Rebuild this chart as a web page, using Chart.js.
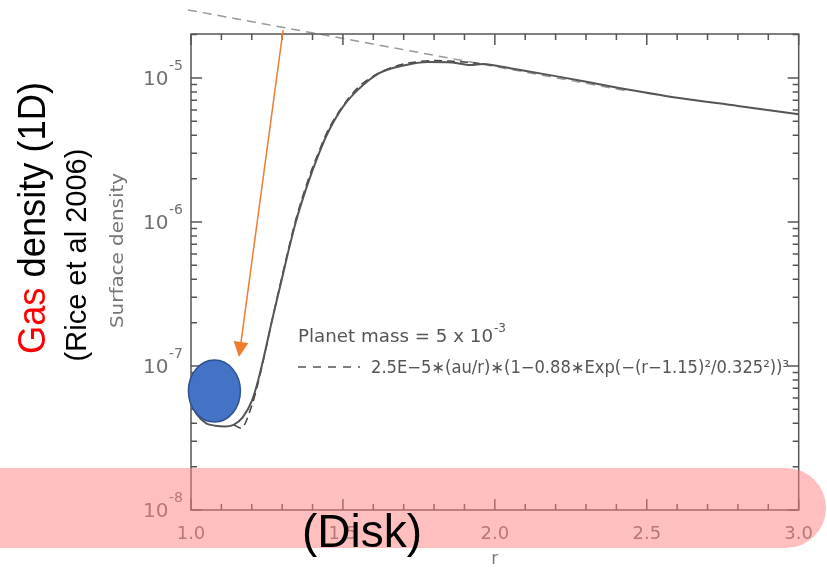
<!DOCTYPE html>
<html>
<head>
<meta charset="utf-8">
<script src="https://cdn.jsdelivr.net/npm/chart.js@4.4.1/dist/chart.umd.min.js"></script>
<style>
  html, body { margin: 0; padding: 0; background: #fff; }
  #wrap { position: relative; width: 827px; height: 568px; overflow: hidden; }
</style>
</head>
<body>
<div id="wrap"><canvas id="densityChart"></canvas></div>
<script>
// Simulated profile (solid line)
const simR = [1.00, 1.02, 1.05, 1.08, 1.11, 1.14, 1.17, 1.20, 1.22, 1.245, 1.265, 1.295, 1.32, 1.345, 1.385, 1.42, 1.45,
              1.50, 1.55, 1.62, 1.70, 1.78, 1.86, 1.92, 1.96, 2.00, 2.05, 2.20, 2.40, 2.60, 2.80, 3.00];
const simDensity = [5.5e-8, 4.6e-8, 4.0e-8, 3.85e-8, 3.8e-8, 3.9e-8, 4.4e-8, 5.7e-8, 7.8e-8, 1.29e-7, 2.0e-7, 3.7e-7, 6.2e-7, 1.0e-6, 1.86e-6, 2.95e-6, 4.15e-6,
                    6.3e-6, 8.3e-6, 1.08e-5, 1.22e-5, 1.29e-5, 1.28e-5, 1.23e-5, 1.25e-5, 1.22e-5, 1.17e-5, 1.03e-5, 8.6e-6, 7.3e-6, 6.4e-6, 5.6e-6];

// Fitted profile (dashed line)
const fitR = [1.14, 1.165, 1.20, 1.22, 1.245, 1.265, 1.295, 1.32, 1.345, 1.385, 1.42, 1.45, 1.50, 1.55, 1.60, 1.65, 1.70, 1.75, 1.80, 1.85, 1.90, 1.95];
const fitDensity = [3.9e-8, 3.7e-8, 5.3e-8, 7.5e-8, 1.27e-7, 2.0e-7, 3.8e-7, 6.4e-7, 1.04e-6, 1.95e-6, 3.05e-6, 4.3e-6, 6.4e-6, 8.6e-6, 1.03e-5, 1.16e-5, 1.25e-5, 1.30e-5, 1.32e-5, 1.31e-5, 1.29e-5, 1.26e-5];

// Straight grey slope line drawn over the slide
const slopeR = [0.99, 2.44];
const slopeDensity = [2.97e-5, 8.1e-6];

// Axis ticks
const xTickValues = [1.0, 1.5, 2.0, 2.5, 3.0];
const xTickLabels = ['1.0', '1.5', '2.0', '2.5', '3.0'];
const yTickValues = [1e-8, 1e-7, 1e-6, 1e-5];
const yTickExponents = ['-8', '-7', '-6', '-5'];

// Legend text
const legendTitle = 'Planet mass = 5 x 10';
const legendTitleExp = '-3';
const legendFit = '2.5E\u22125\u2217(au/r)\u2217(1\u22120.88\u2217Exp(\u2212(r\u22121.15)\u00B2/0.325\u00B2))\u00B3';

// Arrow and planet marker, in data units
const arrowFrom = { x: 1.303, y: 2.15e-5 };
const arrowTo = { x: 1.158, y: 1.155e-7 };
const planetAt = { x: 1.077, y: 6.7e-8 };

const toPoints = (xs, ys) => xs.map((x, i) => ({ x: x, y: ys[i] }));

//Draw text squeezed or stretched to a given width
function fitText(ctx, text, x, y, width) {
    const w = ctx.measureText(text).width;
    ctx.save();
    ctx.translate(x, y);
    ctx.scale(width / w, 1);
    ctx.fillText(text, 0, 0);
    ctx.restore();
}

//Plugin for the IDL style frame, inward ticks and the slide annotations
const slideOverlay = {
    id: 'slideOverlay',
    afterDatasetsDraw(chart) {
        const { ctx, chartArea: a, scales: { x, y } } = chart;
        ctx.save();
        ctx.strokeStyle = '#555';
        ctx.lineWidth = 1.5;
        ctx.strokeRect(a.left, a.top, a.right - a.left, a.bottom - a.top);
        ctx.beginPath();
        for (let i = 0; i <= 20; i++) {
            const px = x.getPixelForValue(1 + i * 0.1);
            const len = i % 5 === 0 ? 11 : 6;
            ctx.moveTo(px, a.bottom); ctx.lineTo(px, a.bottom - len);
            ctx.moveTo(px, a.top); ctx.lineTo(px, a.top + len);
        }
        for (let e = -8; e <= -5; e++) {
            for (let m = 1; m <= 9; m++) {
                const v = m * Math.pow(10, e);
                if (v > y.max) break;
                const py = y.getPixelForValue(v);
                const len = m === 1 ? 11 : 6;
                ctx.moveTo(a.left, py); ctx.lineTo(a.left + len, py);
                ctx.moveTo(a.right, py); ctx.lineTo(a.right - len, py);
            }
        }
        ctx.stroke();

        // y tick labels, 10 with a raised exponent
        ctx.fillStyle = '#707070';
        ctx.textBaseline = 'middle';
        ctx.textAlign = 'left';
        yTickValues.forEach((v, i) => {
            const py = y.getPixelForValue(v);
            ctx.font = '20px "DejaVu Sans"';
            ctx.fillText('10', 143, py + 2);
            ctx.font = '14px "DejaVu Sans"';
            ctx.fillText(yTickExponents[i], 169, py - 12);
        });

        // legend
        ctx.fillStyle = '#555';
        ctx.textBaseline = 'alphabetic';
        ctx.font = '17px "DejaVu Sans"';
        fitText(ctx, legendTitle, 298, 342, 195);
        ctx.font = '12px "DejaVu Sans"';
        ctx.fillText(legendTitleExp, 494, 332);
        ctx.font = '17px "DejaVu Sans"';
        fitText(ctx, legendFit, 371, 373, 418);
        ctx.setLineDash([8, 7]);
        ctx.lineWidth = 1.3;
        ctx.beginPath();
        ctx.moveTo(298, 367); ctx.lineTo(360, 367);
        ctx.stroke();
        ctx.restore();
    },
    afterDraw(chart) {
        const { ctx, scales: { x, y } } = chart;
        ctx.save();

        // axis titles
        ctx.fillStyle = '#777';
        ctx.font = '17px "DejaVu Sans"';
        ctx.textAlign = 'center';
        ctx.textBaseline = 'middle';
        ctx.fillText('r', x.getPixelForValue(2.0), 560);
        ctx.save();
        ctx.translate(119, 251);
        ctx.rotate(-Math.PI / 2);
        ctx.textAlign = 'left';
        fitText(ctx, 'Surface density', -77, 0, 155);
        ctx.restore();

        // orange arrow
        const x0 = x.getPixelForValue(arrowFrom.x), y0 = y.getPixelForValue(arrowFrom.y);
        const x1 = x.getPixelForValue(arrowTo.x), y1 = y.getPixelForValue(arrowTo.y);
        const ang = Math.atan2(y1 - y0, x1 - x0);
        ctx.strokeStyle = '#ED7D31';
        ctx.fillStyle = '#ED7D31';
        ctx.lineWidth = 1.5;
        ctx.beginPath();
        ctx.moveTo(x0, y0);
        ctx.lineTo(x1 - 12 * Math.cos(ang), y1 - 12 * Math.sin(ang));
        ctx.stroke();
        ctx.beginPath();
        ctx.moveTo(x1, y1);
        ctx.lineTo(x1 - 15 * Math.cos(ang) + 7.5 * Math.sin(ang), y1 - 15 * Math.sin(ang) - 7.5 * Math.cos(ang));
        ctx.lineTo(x1 - 15 * Math.cos(ang) - 7.5 * Math.sin(ang), y1 - 15 * Math.sin(ang) + 7.5 * Math.cos(ang));
        ctx.closePath();
        ctx.fill();

        // planet
        ctx.beginPath();
        ctx.ellipse(x.getPixelForValue(planetAt.x), y.getPixelForValue(planetAt.y), 26, 31, 0, 0, Math.PI * 2);
        ctx.fillStyle = '#4472C4';
        ctx.fill();
        ctx.strokeStyle = '#2F528F';
        ctx.lineWidth = 1.5;
        ctx.stroke();

        // disk band
        ctx.fillStyle = 'rgba(255, 128, 128, 0.5)';
        ctx.beginPath();
        ctx.roundRect(-60, 468, 886, 80, 40);
        ctx.fill();

        ctx.fillStyle = '#000';
        ctx.font = '46px "Liberation Sans"';
        ctx.textAlign = 'center';
        ctx.textBaseline = 'alphabetic';
        ctx.fillText('(Disk)', 362, 547);

        // rotated slide titles
        ctx.save();
        ctx.translate(45, 218);
        ctx.rotate(-Math.PI / 2);
        ctx.scale(0.93, 1);
        ctx.font = '39px "Liberation Sans"';
        ctx.textAlign = 'left';
        const full = 'Gas density (1D)';
        const w = ctx.measureText(full).width;
        ctx.fillStyle = '#FF0000';
        ctx.fillText('Gas', -w / 2, 0);
        ctx.fillStyle = '#000';
        ctx.fillText(' density (1D)', -w / 2 + ctx.measureText('Gas').width, 0);
        ctx.restore();

        ctx.save();
        ctx.translate(86, 255);
        ctx.rotate(-Math.PI / 2);
        ctx.font = '29px "Liberation Sans"';
        ctx.textAlign = 'center';
        ctx.fillStyle = '#000';
        ctx.fillText('(Rice et al 2006)', 0, 0);
        ctx.restore();

        ctx.restore();
    }
};

const config = {
    type: 'line',
    data: {
        datasets: [
            {
                label: 'Simulation',
                data: toPoints(simR, simDensity),
                borderColor: '#555',
                borderWidth: 2,
                pointRadius: 0,
                cubicInterpolationMode: 'monotone',
                fill: false
            },
            {
                label: 'Fit',
                data: toPoints(fitR, fitDensity),
                borderColor: '#444',
                borderWidth: 1.5,
                borderDash: [8, 5],
                pointRadius: 0,
                cubicInterpolationMode: 'monotone',
                fill: false
            },
            {
                label: 'Slope',
                data: toPoints(slopeR, slopeDensity),
                borderColor: '#999',
                borderWidth: 1.5,
                borderDash: [9, 6],
                pointRadius: 0,
                clip: false,
                fill: false
            }
        ]
    },
    options: {
        responsive: true,
        maintainAspectRatio: false,
        animation: false,
        layout: { padding: { left: 0, top: 34, right: 16, bottom: 0 } },
        plugins: { legend: { display: false }, tooltip: { enabled: false } },
        scales: {
            x: {
                type: 'linear',
                min: 1.0,
                max: 3.0,
                afterBuildTicks: s => { s.ticks = xTickValues.map(v => ({ value: v })); },
                afterFit: s => { s.height = 58; },
                grid: { drawOnChartArea: false, drawTicks: false },
                border: { display: false },
                ticks: {
                    padding: 14,
                    color: '#707070',
                    font: { family: 'DejaVu Sans', size: 18 },
                    maxRotation: 0,
                    callback: (v) => xTickLabels[xTickValues.indexOf(v)]
                }
            },
            y: {
                type: 'logarithmic',
                min: 1e-8,
                max: 2.02e-5,
                afterBuildTicks: s => { s.ticks = yTickValues.map(v => ({ value: v })); },
                afterFit: s => { s.width = 191; },
                grid: { drawOnChartArea: false, drawTicks: false },
                border: { display: false },
                ticks: { display: false }
            }
        }
    },
    plugins: [slideOverlay]
};

const ctx = document.getElementById('densityChart').getContext('2d');
new Chart(ctx, config);
</script>
</body>
</html>
